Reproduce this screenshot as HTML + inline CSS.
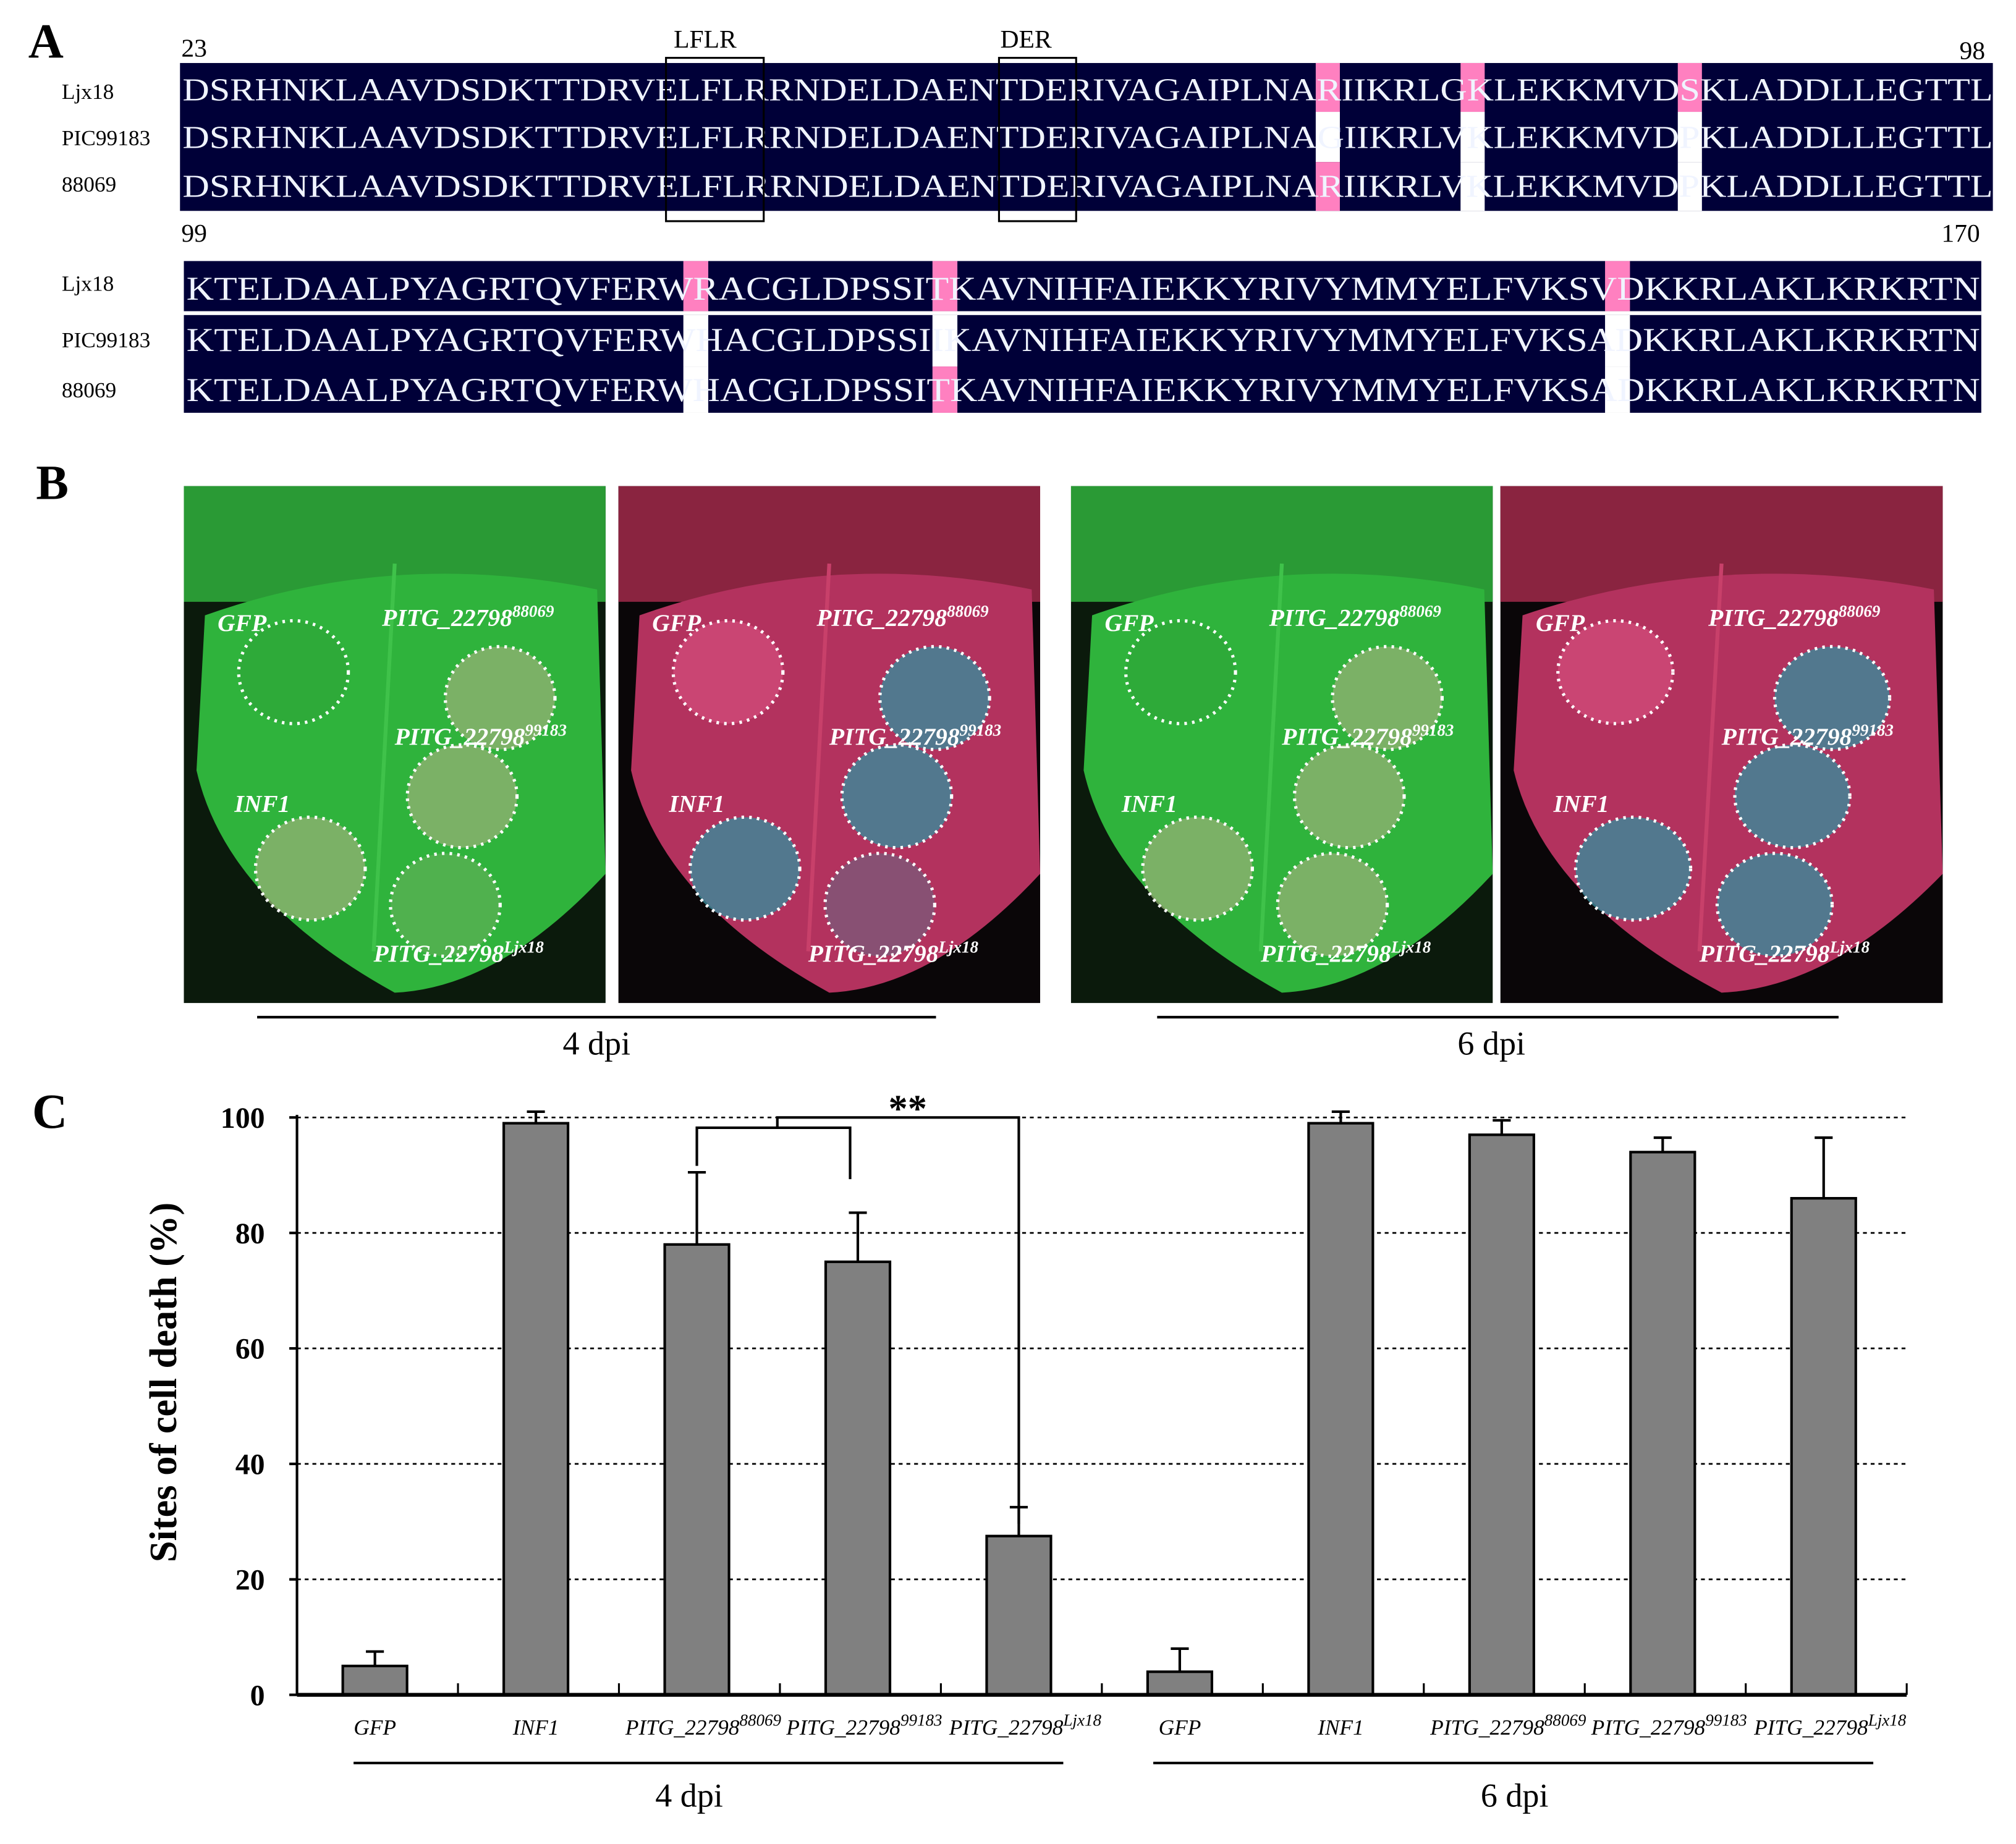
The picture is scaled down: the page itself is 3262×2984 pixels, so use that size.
<!DOCTYPE html>
<html><head><meta charset="utf-8"><style>
html,body{margin:0;padding:0;background:#fff}
svg{display:block}
text{font-family:"Liberation Serif",serif}
</style></head><body>
<svg id="fig" width="3262" height="2984" viewBox="0 0 1568 1434" preserveAspectRatio="none" xmlns="http://www.w3.org/2000/svg">
<!-- Panel A -->
<g>
<text x="22" y="45" font-size="38" font-weight="bold">A</text>
<text x="141" y="44" font-size="20">23</text>
<text x="1524" y="46" font-size="20">98</text>
<text x="524" y="37" font-size="20">LFLR</text>
<text x="778" y="37" font-size="20">DER</text>
<rect x="140" y="49" width="1410" height="115" fill="#000038"/>
<g id="gaps1"></g>
<text x="48" y="77" font-size="17">Ljx18</text>
<text x="48" y="113" font-size="17">PIC99183</text>
<text x="48" y="149" font-size="17">88069</text>
<g font-family="Liberation Mono,monospace" font-size="25" fill="#f0f4ff">
<text x="142" y="78" textLength="1408" lengthAdjust="spacingAndGlyphs">DSRHNKLAAVDSDKTTDRVELFLRRNDELDAENTDERIVAGAIPLNARIIKRLGKLEKKMVDSKLADDLLEGTTL</text>
<text x="142" y="115" textLength="1408" lengthAdjust="spacingAndGlyphs">DSRHNKLAAVDSDKTTDRVELFLRRNDELDAENTDERIVAGAIPLNAGIIKRLVKLEKKMVDPKLADDLLEGTTL</text>
<text x="142" y="153" textLength="1408" lengthAdjust="spacingAndGlyphs">DSRHNKLAAVDSDKTTDRVELFLRRNDELDAENTDERIVAGAIPLNARIIKRLVKLEKKMVDPKLADDLLEGTTL</text>
</g>
<rect x="518" y="45" width="76" height="127" fill="none" stroke="#000" stroke-width="1.5"/>
<rect x="777" y="45" width="60" height="127" fill="none" stroke="#000" stroke-width="1.5"/>
<text x="141" y="188" font-size="20">99</text>
<text x="1510" y="188" font-size="20">170</text>
<rect x="143" y="203" width="1398" height="118" fill="#000038"/>
<rect x="143" y="242" width="1398" height="3" fill="#fff"/>
<g id="gaps2"></g>
<text x="48" y="226" font-size="17">Ljx18</text>
<text x="48" y="270" font-size="17">PIC99183</text>
<text x="48" y="309" font-size="17">88069</text>
<g font-family="Liberation Mono,monospace" font-size="26" fill="#f0f4ff">
<text x="145" y="233" textLength="1395" lengthAdjust="spacingAndGlyphs">KTELDAALPYAGRTQVFERWRACGLDPSSITKAVNIHFAIEKKYRIVYMMYELFVKSVDKKRLAKLKRKRTN</text>
<text x="145" y="273" textLength="1395" lengthAdjust="spacingAndGlyphs">KTELDAALPYAGRTQVFERWHACGLDPSSIIKAVNIHFAIEKKYRIVYMMYELFVKSADKKRLAKLKRKRTN</text>
<text x="145" y="312" textLength="1395" lengthAdjust="spacingAndGlyphs">KTELDAALPYAGRTQVFERWHACGLDPSSITKAVNIHFAIEKKYRIVYMMYELFVKSADKKRLAKLKRKRTN</text>
</g>
</g>
<!-- Panel B -->
<g>
<text x="28" y="388" font-size="38" font-weight="bold">B</text>
<g id="photos"></g>
<line x1="200" y1="791" x2="728" y2="791" stroke="#000" stroke-width="2"/>
<line x1="900" y1="791" x2="1430" y2="791" stroke="#000" stroke-width="2"/>
<text x="464" y="820" font-size="26" text-anchor="middle">4 dpi</text>
<text x="1160" y="820" font-size="26" text-anchor="middle">6 dpi</text>
</g>
<!-- Panel C -->
<g>
<text x="25" y="877" font-size="38" font-weight="bold">C</text>
<text transform="translate(137,1075) rotate(-90)" font-size="30" font-weight="bold" text-anchor="middle">Sites of cell death (%)</text>
<g id="chart"></g>
<line x1="275" y1="1371" x2="827" y2="1371" stroke="#000" stroke-width="2"/>
<line x1="897" y1="1371" x2="1457" y2="1371" stroke="#000" stroke-width="2"/>
<text x="536" y="1405" font-size="26" text-anchor="middle">4 dpi</text>
<text x="1178" y="1405" font-size="26" text-anchor="middle">6 dpi</text>
</g>
</svg>
<script>
const categories = ["GFP","INF1","PITG_22798|88069","PITG_22798|99183","PITG_22798|Ljx18","GFP","INF1","PITG_22798|88069","PITG_22798|99183","PITG_22798|Ljx18"];
const values = [5, 99, 78, 75, 27.5, 4, 99, 97, 94, 86];
const errors = [2.5, 2, 12.5, 8.5, 5, 4, 2, 2.5, 2.5, 10.5];
const yTicks = [0, 20, 40, 60, 80, 100];

const NS = "http://www.w3.org/2000/svg";
function mk(tag, attrs, parent){const e=document.createElementNS(NS,tag);for(const k in attrs)e.setAttribute(k,attrs[k]);parent.appendChild(e);return e;}

const g1=document.getElementById('gaps1');
const cw1=1408/75, x01=142, rowsY1=[[49,38],[87,39],[126,38]];
[[47,['p','w','p']],[53,['p','w','w']],[62,['p','w','w']]].forEach(([i,st])=>{
 st.forEach((s,r)=>mk('rect',{x:x01+i*cw1-1,y:rowsY1[r][0],width:cw1,height:rowsY1[r][1],fill:s==='p'?'#ff80c0':'#fff'},g1));
});
const g2=document.getElementById('gaps2');
const cw2=1395/72, x02=145, rowsY2=[[203,39],[245,40],[285,36]];
[[20,['p','w','w']],[30,['p','w','p']],[57,['p','w','w']]].forEach(([i,st])=>{
 st.forEach((s,r)=>mk('rect',{x:x02+i*cw2-1,y:rowsY2[r][0],width:cw2,height:rowsY2[r][1],fill:s==='p'?'#ff80c0':'#fff'},g2));
});

const ph=document.getElementById('photos');
const photos=[{x:143,w:328,t:'g'},{x:481,w:328,t:'r'},{x:833,w:328,t:'g'},{x:1167,w:344,t:'r'}];
photos.forEach((p,i)=>{
 const g=mk('g',{},ph);
 
 
 mk('rect',{x:p.x,y:378,width:p.w,height:402,fill:p.t==='g'?'#0b1a0c':'#0a0608'},g);
 const c=p.t==='g'?'#2fb33c':'#b3325e', c2=p.t==='g'?'#3fc24a':'#c8406a';
 mk('rect',{x:p.x,y:378,width:p.w,height:90,fill:p.t==='g'?'#2a9a35':'#8a2440'},g);
 const X=v=>p.x+v*p.w, Y=v=>378+v*402;
 mk('path',{d:`M${X(0.05)},${Y(0.25)} Q${X(0.5)},${Y(0.12)} ${X(0.98)},${Y(0.2)} L${X(1)},${Y(0.75)} Q${X(0.75)},${Y(0.97)} ${X(0.5)},${Y(0.98)} Q${X(0.1)},${Y(0.8)} ${X(0.03)},${Y(0.55)} Z`,fill:c},g);
 mk('path',{d:`M${X(0.5)},${Y(0.15)} L${X(0.45)},${Y(0.9)}`,stroke:c2,'stroke-width':3,fill:'none'},g);
 const circ=[[0.26,0.36],[0.75,0.41],[0.66,0.6],[0.3,0.74],[0.62,0.81]];
 circ.forEach(([cx,cy],k)=>{
  const fill=k===0?(p.t==='g'?'#2ea838':'#d04a78'):(p.t==='g'?'#8fb070':'#3a8a9a');
  mk('ellipse',{cx:X(cx),cy:Y(cy),rx:p.w*0.13,ry:40,fill:fill,opacity:k===4&&i<2?0.35:0.8},g);
  mk('ellipse',{cx:X(cx),cy:Y(cy),rx:p.w*0.13,ry:40,fill:'none',stroke:'#fff','stroke-width':2.5,'stroke-dasharray':'2 4'},g);
 });
 const lab=[['GFP',0.08,0.28],['INF1',0.12,0.63],['PITG_22798',0.47,0.27,'88069'],['PITG_22798',0.5,0.5,'99183'],['PITG_22798',0.45,0.92,'Ljx18']];
 lab.forEach(l=>{
  const t=mk('text',{x:X(l[1]),y:Y(l[2]),'font-size':19,'font-style':'italic','font-weight':'bold',fill:'#fff'},g);
  t.textContent=l[0];
  if(l[3]){const s=mk('tspan',{dy:-7,'font-size':13},t);s.textContent=l[3];}
 });
});

const ch=document.getElementById('chart');
const X0=231,X1=1483,Y0=1318,Y100=869;
const yS=v=>Y0-(Y0-Y100)*v/100;
const slot=(X1-X0)/categories.length;
const xC=i=>X0+slot*(i+0.5)-2;
yTicks.forEach(v=>{
 if(v>0){const l=mk('line',{x1:X0,y1:yS(v),x2:X1,y2:yS(v),stroke:'#000','stroke-width':1.3,'stroke-dasharray':'3 3'},ch);
  }
 mk('line',{x1:X0-6,y1:yS(v),x2:X0,y2:yS(v),stroke:'#000','stroke-width':2},ch);
 const t=mk('text',{x:206,y:yS(v)+8,'font-size':23,'font-weight':'bold','text-anchor':'end'},ch);
 t.textContent=v;
 
 
});
mk('line',{x1:X0,y1:Y100-2,x2:X0,y2:Y0,stroke:'#000','stroke-width':2},ch);
categories.forEach((c,i)=>{
 const x=xC(i),top=yS(values[i]),et=yS(values[i]+errors[i]);
 const b=mk('rect',{x:x-25,y:top,width:50,height:Y0-top,fill:'#808080',stroke:'#000','stroke-width':2},ch);
 
 
 const e=mk('path',{d:`M${x},${top} L${x},${et} M${x-7},${et} L${x+7},${et}`,stroke:'#000','stroke-width':2,fill:'none'},ch);
 
 
 mk('line',{x1:X0+slot*(i+1),y1:Y0,x2:X0+slot*(i+1),y2:Y0-9,stroke:'#000','stroke-width':1.5},ch);
 const [base,sup]=c.split('|');
 const t=mk('text',{x:x+(sup?5:0),y:1349,'font-size':17,'font-style':'italic','text-anchor':'middle'},ch);
 t.textContent=base;
 if(sup){const s=mk('tspan',{dy:-7,'font-size':13},t);s.textContent=sup;}
 
 
});
mk('line',{x1:X0,y1:Y0,x2:X1,y2:Y0,stroke:'#000','stroke-width':3},ch);
const bx1=xC(2),bx2=xC(3),bx3=xC(4),bmid=(bx1+bx2)/2;
const br=mk('path',{d:`M${bx1},${yS(values[2]+errors[2])-5} L${bx1},877 L${bx2-6},877 L${bx2-6},917 M${bmid},877 L${bmid},869 L${bx3},869 L${bx3},1185`,stroke:'#000','stroke-width':2,fill:'none'},ch);


const st=mk('text',{x:706,y:872,'font-size':30,'font-weight':'bold','text-anchor':'middle'},ch);
st.textContent='**';


</script>
</body></html>
